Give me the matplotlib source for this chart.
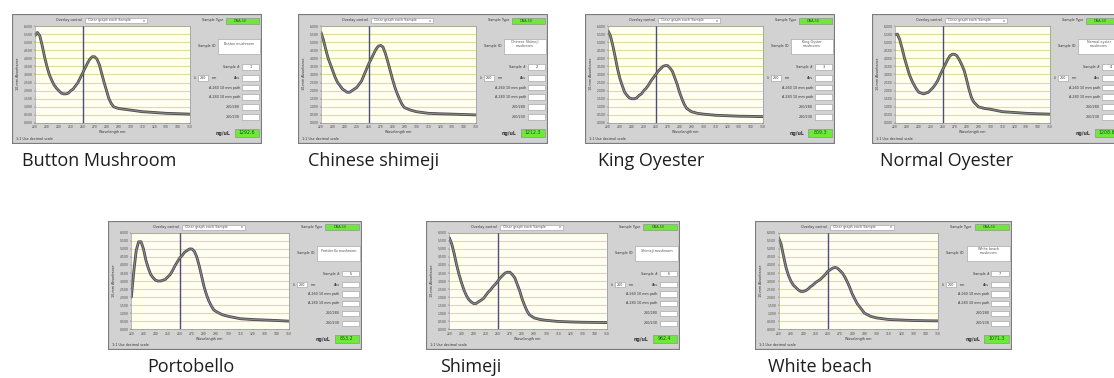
import matplotlib
matplotlib.use('Agg')
import matplotlib.pyplot as plt
from matplotlib.patches import Rectangle

W, H = 1114, 378

# ---------------- data ----------------
wavelength = [220, 222, 224, 226, 228, 230, 232, 234, 236, 238, 240, 242, 244, 246,
              248, 250, 252, 254, 256, 258, 260, 262, 264, 266, 268, 270, 272, 274,
              276, 278, 280, 282, 284, 286, 288, 290, 295, 300, 310, 320, 330, 340, 350]

button_mushroom = [10.8, 11.2, 10.8, 9.6, 8.2, 7.0, 6.0, 5.3, 4.7, 4.3, 4.0, 3.7, 3.6, 3.6,
                   3.7, 4.0, 4.2, 4.6, 5.0, 5.6, 6.2, 6.8, 7.4, 7.9, 8.2, 8.2, 7.9, 7.2,
                   6.1, 5.0, 4.0, 3.0, 2.4, 2.0, 1.9, 1.8, 1.7, 1.6, 1.4, 1.3, 1.2, 1.15, 1.1]
chinese_shimeji = [11.2, 10.3, 9.1, 8.0, 7.2, 6.4, 5.6, 5.0, 4.6, 4.2, 4.0, 3.8, 3.8, 4.0,
                   4.2, 4.4, 4.8, 5.2, 5.9, 6.6, 7.3, 7.9, 8.5, 9.1, 9.5, 9.6, 9.4, 8.6,
                   7.6, 6.5, 5.4, 4.4, 3.6, 2.9, 2.3, 1.9, 1.6, 1.4, 1.2, 1.14, 1.1, 1.05, 1.0]
king_oyester = [11.4, 10.8, 9.6, 8.2, 6.7, 5.5, 4.6, 3.8, 3.4, 3.1, 3.0, 3.0, 3.1, 3.4,
                3.6, 4.0, 4.3, 4.7, 5.2, 5.6, 6.0, 6.4, 6.7, 7.0, 7.1, 7.1, 6.8, 6.4,
                5.6, 4.8, 3.8, 3.0, 2.3, 1.8, 1.6, 1.4, 1.2, 1.1, 0.96, 0.9, 0.84, 0.82, 0.78]
normal_oyester = [10.9, 11.0, 10.3, 9.2, 8.0, 7.0, 6.0, 5.3, 4.7, 4.2, 3.8, 3.7, 3.6, 3.7,
                  3.8, 4.1, 4.4, 4.8, 5.3, 6.0, 6.6, 7.2, 7.8, 8.3, 8.5, 8.5, 8.3, 7.8,
                  7.2, 6.5, 5.4, 4.2, 3.2, 2.6, 2.3, 2.0, 1.8, 1.7, 1.4, 1.3, 1.2, 1.14, 1.1]
portobello = [4.0, 7.2, 9.8, 10.9, 10.9, 10.0, 8.6, 7.6, 6.8, 6.4, 6.1, 6.0, 6.0, 6.1,
              6.2, 6.5, 6.8, 7.3, 7.9, 8.4, 8.9, 9.2, 9.6, 9.8, 10.0, 10.0, 9.7, 9.0,
              7.9, 6.6, 5.3, 4.3, 3.5, 2.9, 2.4, 2.2, 1.8, 1.6, 1.3, 1.2, 1.14, 1.08, 1.0]
shimeji = [11.4, 10.6, 9.4, 8.0, 6.8, 5.8, 4.9, 4.2, 3.7, 3.4, 3.2, 3.2, 3.4, 3.6,
           3.8, 4.2, 4.6, 4.9, 5.3, 5.6, 6.0, 6.4, 6.7, 7.0, 7.1, 7.1, 6.8, 6.4,
           5.6, 4.8, 3.8, 3.0, 2.3, 1.8, 1.6, 1.4, 1.2, 1.1, 0.96, 0.9, 0.86, 0.84, 0.82]
white_beach = [11.4, 10.6, 9.1, 7.7, 6.7, 6.0, 5.5, 5.2, 4.9, 4.7, 4.7, 4.8, 5.0, 5.3,
               5.5, 5.8, 6.0, 6.2, 6.5, 6.8, 7.2, 7.4, 7.6, 7.7, 7.6, 7.3, 7.0, 6.5,
               5.9, 5.2, 4.4, 3.8, 3.2, 2.8, 2.4, 2.0, 1.6, 1.4, 1.2, 1.14, 1.08, 1.05, 1.03]

series = [button_mushroom, chinese_shimeji, king_oyester, normal_oyester,
          portobello, shimeji, white_beach]
names = ["Button Mushroom", "Chinese shimeji", "King Oyester", "Normal Oyester",
         "Portobello", "Shimeji", "White beach"]
sample_ids = ["Button mushroom", "Chinese Shimeji\nmushroom", "King Oyster\nmushroom",
              "Normal oyster\nmushroom", "Portobello mushroom", "Shimeji mushroom",
              "White beach\nmushroom"]
concentrations = ["1292.6", "1212.3", "809.3", "1208.6", "853.2", "962.4", "1071.3"]
xticks = [220, 230, 240, 250, 260, 270, 280, 290, 300, 310, 320, 330, 340, 350]
yticks = [0, 1, 2, 3, 4, 5, 6, 7, 8, 9, 10, 11, 12]

# ---------------- layout (pixels) ----------------
panel_rects = [(12, 14, 250, 130), (298, 14, 250, 130), (585, 14, 250, 130),
               (872, 14, 250, 130), (108, 221, 254, 129), (426, 221, 254, 129),
               (755, 221, 257, 129)]
label_pos = [(22, 161), (308, 161), (598, 161), (880, 161),
             (147, 367), (440, 367), (768, 367)]

fig = plt.figure(figsize=(W / 100, H / 100), dpi=100)
fig.patch.set_facecolor('white')


def frect(x, y, w, h):
    return [x / W, 1 - (y + h) / H, w / W, h / H]


GREEN = '#6ee83a'
TXT = 2.4

for i, (px, py, pw, ph) in enumerate(panel_rects):
    ax = fig.add_axes(frect(px, py, pw, ph))
    ax.set_xlim(0, 250)
    ax.set_ylim(130, 0)
    ax.axis('off')
    ax.add_patch(Rectangle((0, 0), 250, 130, facecolor='#d2d2d2',
                           edgecolor='#7c7c7c', lw=1.6))
    # overlay control
    ax.text(70, 6.5, "Overlay control", fontsize=TXT, ha='right', va='center', color='#333')
    ax.add_patch(Rectangle((73, 3.8), 62, 5.4, facecolor='white', edgecolor='#999', lw=0.4))
    ax.text(76, 6.5, "Clear graph each Sample", fontsize=TXT, ha='left', va='center', color='#555')
    ax.text(132, 6.5, "v", fontsize=TXT, ha='center', va='center', color='#333')
    # y label
    ax.text(6, 60, "10-mm Absorbance", fontsize=TXT, rotation=90, ha='center', va='center', color='#333')
    ax.text(100, 118.5, "Wavelength nm", fontsize=TXT, ha='center', va='center', color='#333')
    ax.text(4, 125, "1:1 Use decimal scale", fontsize=TXT, ha='left', va='center', color='#333')
    # sample type
    ax.text(211, 6.5, "Sample Type", fontsize=TXT, ha='right', va='center', color='#333')
    ax.add_patch(Rectangle((214, 3.5), 33, 6, facecolor=GREEN, edgecolor='#888', lw=0.4))
    ax.text(228, 6.5, "DNA-50", fontsize=TXT, ha='center', va='center', color='#225522')
    # sample ID
    ax.text(203, 32, "Sample ID", fontsize=TXT, ha='right', va='center', color='#333')
    ax.add_patch(Rectangle((206, 25), 42, 15, facecolor='white', edgecolor='#999', lw=0.4))
    ax.text(227, 30, sample_ids[i], fontsize=TXT, ha='center', va='center', color='#555',
            linespacing=1.0)
    # field rows
    row_y = [53, 64, 73.5, 83, 93, 103]
    row_lab = ["Sample #", "Abs", "A-260 10 mm path", "A-280 10 mm path", "260/280", "260/230"]
    row_val = [str(i + 1), "", "", "", "", ""]
    for ry, rl, rv in zip(row_y, row_lab, row_val):
        ax.text(228, ry, rl, fontsize=TXT, ha='right', va='center', color='#333')
        ax.add_patch(Rectangle((230, ry - 2.6), 17, 5.2, facecolor='white', edgecolor='#999', lw=0.4))
        if rv:
            ax.text(238.5, ry, rv, fontsize=TXT, ha='center', va='center', color='#333')
    ax.text(183, 64, "λ", fontsize=TXT, ha='center', va='center', color='#333')
    ax.add_patch(Rectangle((186, 61.4), 10, 5.2, facecolor='white', edgecolor='#999', lw=0.4))
    ax.text(191, 64, "260", fontsize=TXT, ha='center', va='center', color='#333')
    ax.text(202, 64, "nm", fontsize=TXT, ha='center', va='center', color='#333')
    # concentration
    ax.text(219, 119, "ng/uL", fontsize=3.4, ha='right', va='center', color='#333', weight='bold')
    ax.add_patch(Rectangle((223, 115), 24, 7.5, facecolor=GREEN, edgecolor='#888', lw=0.4))
    ax.text(235, 118.8, concentrations[i], fontsize=3.4, ha='center', va='center', color='#1f4f1f')

    # plot area
    sx, sy = pw / 250, ph / 130
    x0, y0, x1, y1 = 23, 12, 178, 109
    pa = fig.add_axes(frect(px + x0 * sx, py + y0 * sy, (x1 - x0) * sx, (y1 - y0) * sy))
    pa.set_facecolor('#fffff1')
    pa.set_xlim(220, 350)
    pa.set_ylim(0, 12)
    pa.set_xticks(xticks)
    pa.set_yticks(yticks)
    pa.set_xticklabels([str(t) for t in xticks])
    pa.set_yticklabels([f"{t * 0.5:.3f}" for t in yticks])
    pa.grid(axis='y', color='#e4dc96', lw=0.8)
    pa.set_axisbelow(True)
    pa.tick_params(labelsize=2.2, length=1, pad=0.8, width=0.3, colors='#444')
    for s in pa.spines.values():
        s.set_color('#888')
        s.set_linewidth(0.4)
    pa.axvline(260, color='#4e4e72', lw=1.0)
    pa.plot(wavelength, series[i], color='#4a4a4a', lw=2.0, solid_capstyle='round')
    pa.plot(wavelength, series[i], color='#8a8a8a', lw=0.8)

    lx, ly = label_pos[i]
    fig.text(lx / W, 1 - ly / H, names[i], fontsize=13, family='Open Sans',
             color='#1e1e1e', ha='left', va='center')

fig.savefig('out.png', dpi=100, facecolor='white')
